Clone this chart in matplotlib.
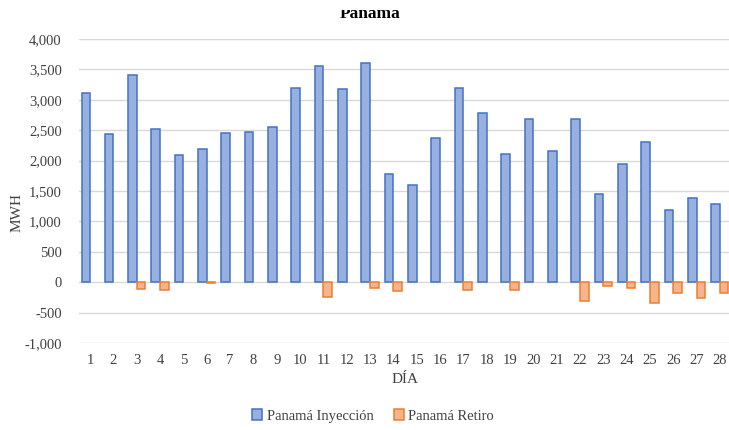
import numpy as np
import matplotlib
matplotlib.use("Agg")
import matplotlib.pyplot as plt
from matplotlib.patches import Rectangle
from matplotlib.ticker import FuncFormatter

plt.rcParams["font.family"] = ["Liberation Serif", "DejaVu Serif"]

# 数据
dias = [str(d) for d in range(1, 29)]
inyeccion = [3110, 2430, 3400, 2525, 2095, 2195, 2452, 2464, 2558, 3190,
             3558, 3178, 3607, 1782, 1606, 2370, 3195, 2789, 2106, 2683,
             2162, 2683, 1457, 1941, 2310, 1193, 1380, 1287]
retiro = [0, 0, -115, -127, 0, -20, 0, 0, 0, 0,
          -248, 0, -94, -138, 0, 0, -135, 0, -135, 0,
          0, -303, -66, -100, -347, -183, -266, -183]

COLORS = {
    "iny_fill": "#98b0e0",
    "iny_edge": "#4472c4",
    "ret_fill": "#f6b38c",
    "ret_edge": "#ed7d31",
    "grid": "#d9d9d9",
}

fig = plt.figure(figsize=(7.29, 4.30), dpi=100)
ax = fig.add_axes([78.5 / 729, 87 / 430, 653 / 729, 304 / 430])

x = np.arange(len(dias))
w = 0.37
# 值为 0 的柱子不画（避免出现细线）
ret_plot = np.where(np.array(retiro) == 0, np.nan, retiro)
ax.bar(x - w / 2, inyeccion, width=w, color=COLORS["iny_fill"],
       edgecolor=COLORS["iny_edge"], linewidth=1.1, label="Panamá Inyección", zorder=3)
ax.bar(x + w / 2, ret_plot, width=w, color=COLORS["ret_fill"],
       edgecolor=COLORS["ret_edge"], linewidth=1.1, label="Panamá Retiro", zorder=3)

ax.set_xlim(-0.5, len(dias) - 0.5)
ax.set_ylim(-1000, 4000)
ax.set_yticks(np.arange(-1000, 4001, 500))
ax.yaxis.set_major_formatter(FuncFormatter(lambda v, p: f"{v:,.0f}"))
ax.set_xticks(x)
ax.set_xticklabels(dias)
ax.tick_params(axis="both", length=0, labelsize=10.5, colors="#404040")
ax.tick_params(axis="y", pad=12)
ax.tick_params(axis="x", pad=8)
ax.grid(axis="y", color=COLORS["grid"], linewidth=1, zorder=0)
for s in ax.spines.values():
    s.set_visible(False)

ax.set_xlabel("DÍA", fontsize=11, color="#404040", labelpad=4)
fig.text(17 / 729, 1 - 213 / 430, "MWH", rotation=90, ha="center", va="center",
         fontsize=11, color="#404040")

# 标题（顶部被截断）
fig.text(370 / 729, 1 - 18 / 430, "Panamá", ha="center", va="baseline",
         fontsize=12.5, fontweight="bold", color="black")
fig.add_artist(Rectangle((0, 1 - 10 / 430), 1, 10 / 430, transform=fig.transFigure,
                         facecolor="white", edgecolor="none", zorder=10))

fig.legend(loc="center", bbox_to_anchor=(373 / 729, 1 - 416 / 430), ncol=2,
           frameon=False, fontsize=10.5, handlelength=0.7, handleheight=0.7,
           handletextpad=0.3, columnspacing=1.4, labelcolor="#404040")

fig.savefig("out.png", dpi=100)
